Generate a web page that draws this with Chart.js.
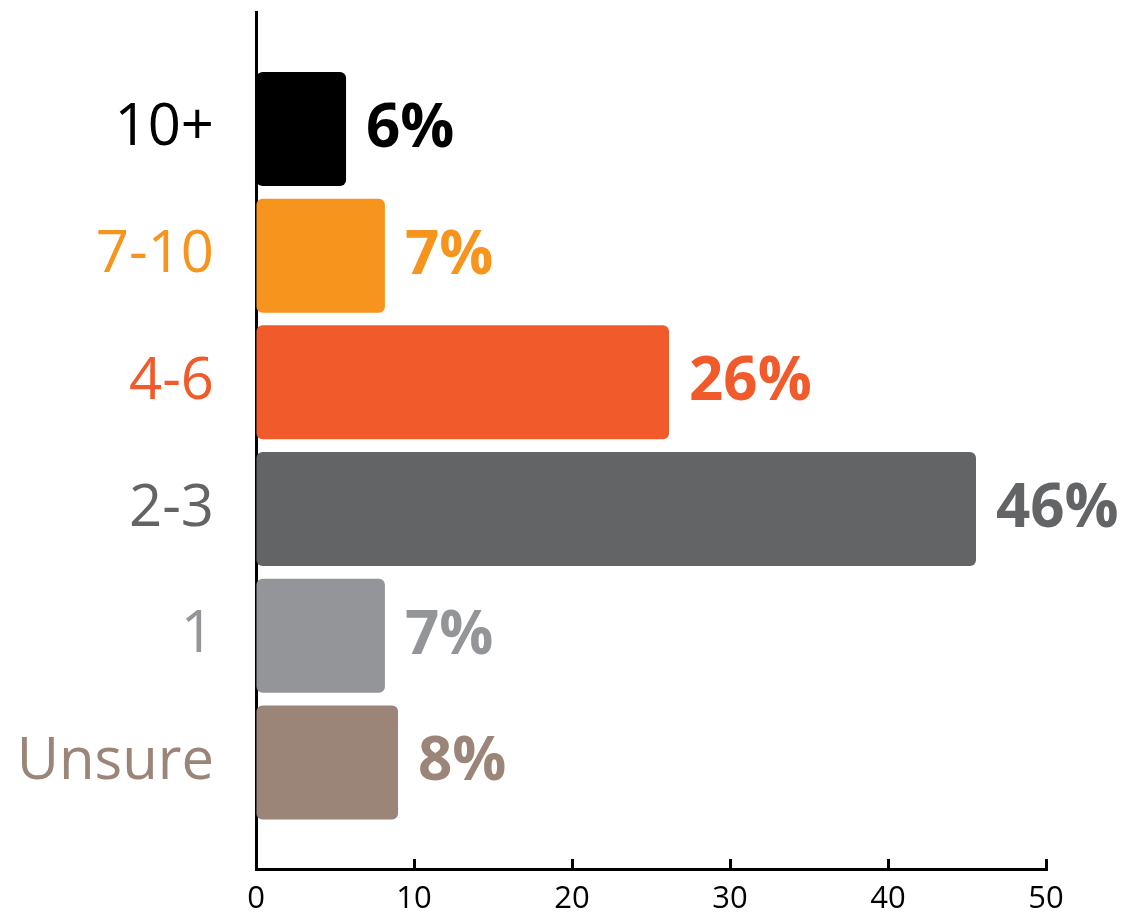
<!DOCTYPE html>
<html>
<head>
<meta charset="utf-8">
<script src="https://cdn.jsdelivr.net/npm/chart.js@4"></script>
<style>
    html, body { margin: 0; padding: 0; background: #fff; }
    #wrap { width: 1124px; height: 915px; }
</style>
</head>
<body>
<div id="wrap"><canvas id="chart"></canvas></div>
<script>
/* ----- D A T A ----- */
const categories = ["10+", "7-10", "4-6", "2-3", "1", "Unsure"];
const barValues = [5.7, 8.16, 26.14, 45.57, 8.16, 8.99];
const valueLabels = ["6%", "7%", "26%", "46%", "7%", "8%"];
const barColors = ["#000000", "#F7941E", "#F15A2B", "#636466", "#939598", "#9B8579"];
const xTicks = [0, 10, 20, 30, 40, 50];

const FONT_FAMILY = "'Open Sans', 'Noto Sans', sans-serif";
const LAST = categories.length - 1;

// value labels at the end of each bar
const valueLabelPlugin = {
    id: "valueLabels",
    afterDatasetsDraw(chart) {
        const ctx = chart.ctx;
        const meta = chart.getDatasetMeta(0);
        ctx.save();
        ctx.font = `bold 60px ${FONT_FAMILY}`;
        ctx.textAlign = "left";
        ctx.textBaseline = "alphabetic";
        meta.data.forEach((bar, i) => {
            ctx.fillStyle = barColors[i];
            ctx.fillText(valueLabels[i], bar.x + 20, bar.y + 18);
        });
        ctx.restore();
    }
};

const config = {
    type: "bar",
    data: {
        datasets: [{
            data: barValues.map((v, i) => ({ x: v, y: LAST - i })),
            backgroundColor: barColors,
            borderRadius: 6,
            borderSkipped: false,
            categoryPercentage: 1,
            barPercentage: 0.9
        }]
    },
    options: {
        indexAxis: "y",
        responsive: true,
        maintainAspectRatio: false,
        animation: false,
        layout: { padding: { top: 12, right: 78, bottom: 0, left: 0 } },
        plugins: {
            legend: { display: false },
            tooltip: { enabled: false }
        },
        scales: {
            x: {
                type: "linear",
                min: 0,
                max: 50,
                afterBuildTicks: (scale) => { scale.ticks = xTicks.map(v => ({ value: v })); },
                afterFit: (scale) => {
                    scale.height = 46;
                    scale.paddingLeft = 0;
                    scale.paddingRight = 0;
                },
                border: { display: true, color: "#000", width: 3 },
                grid: {
                    display: true,
                    drawOnChartArea: false,
                    drawTicks: true,
                    tickLength: -10,
                    tickWidth: 3,
                    tickColor: "#000"
                },
                ticks: {
                    color: "#000",
                    padding: 22,
                    maxRotation: 0,
                    font: { family: FONT_FAMILY, size: 31 }
                }
            },
            y: {
                type: "linear",
                offset: false,
                min: -0.841,
                max: 5.923,
                afterFit: (scale) => {
                    scale.width = 256;
                    scale.paddingTop = 0;
                    scale.paddingBottom = 0;
                },
                border: { display: true, color: "#000", width: 3 },
                grid: { display: true, offset: false, drawOnChartArea: false, drawTicks: false },
                ticks: {
                    stepSize: 1,
                    includeBounds: false,
                    padding: 42,
                    font: { family: FONT_FAMILY, size: 58 },
                    color: (c) => barColors[LAST - c.tick.value] || "#000",
                    callback: (value) => Number.isInteger(value) ? categories[LAST - value] : ""
                }
            }
        }
    },
    plugins: [valueLabelPlugin]
};

new Chart(document.getElementById("chart"), config);
</script>
</body>
</html>
